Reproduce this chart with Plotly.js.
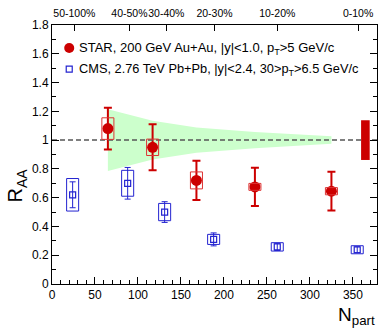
<!DOCTYPE html>
<html><head><meta charset="utf-8">
<script src="https://cdn.plot.ly/plotly-3.0.1.min.js"></script>
<style>html,body{margin:0;padding:0;background:#fff;}</style>
</head><body>
<div id="chart" style="width:382px;height:328px;"></div>
<script>
// STAR, 200 GeV Au+Au
const starNpart = [65, 117, 168, 236, 325];
const starRaa   = [1.08, 0.95, 0.72, 0.675, 0.645];
const starStat  = [0.145, 0.16, 0.137, 0.133, 0.135];
const starSys   = [0.075, 0.057, 0.059, 0.024, 0.025];
// CMS, 2.76 TeV Pb+Pb
const cmsNpart = [24, 88, 131, 188, 262, 355];
const cmsRaa   = [0.62, 0.70, 0.50, 0.31, 0.258, 0.238];
const cmsStat  = [0.09, 0.11, 0.072, 0.045, 0.025, 0.02];
const cmsSys   = [0.113, 0.09, 0.06, 0.035, 0.029, 0.028];
// Ncoll uncertainty band (half width around 1) at STAR Npart
const bandHalf = [0.214, 0.135, 0.088, 0.057, 0.026];
// global STAR uncertainty
const globalNpart = 364.5;
const globalUnc = 0.138;
// top axis centrality labels
const centralityLabels = ['50-100%', '40-50%', '30-40%', '20-30%', '10-20%', '0-10%'];
const centralityNpart = [26, 90, 133, 189, 262, 356];

const RED = '#cc0000', BLUE = '#2323d0';
const xMax = 378, boxHalf = 7, globalHalf = 5;
const FONT = 'Liberation Sans, Arial, sans-serif';

const bandX = starNpart.concat(starNpart.slice().reverse());
const bandY = starNpart.map((_, i) => 1 + bandHalf[i])
  .concat(starNpart.map((_, i) => 1 - bandHalf[i]).reverse());

const traces = [
  {x: bandX, y: bandY, type: 'scatter', mode: 'lines', fill: 'toself',
   fillcolor: '#ccffcc', line: {width: 0}, hoverinfo: 'skip', showlegend: false},
  {x: [0, xMax], y: [1, 1], type: 'scatter', mode: 'lines', xaxis: 'x2',
   line: {color: '#555', width: 1.5, dash: '5px,3px'}, showlegend: false},
  {x: cmsNpart, y: cmsRaa, type: 'scatter', mode: 'markers',
   marker: {symbol: 'square-open', size: 6, color: BLUE, line: {width: 1.2, color: BLUE}},
   error_y: {type: 'data', array: cmsStat, color: BLUE, thickness: 1, width: 3},
   showlegend: false},
  {x: starNpart, y: starRaa, type: 'scatter', mode: 'markers',
   marker: {symbol: 'circle', size: 11, color: RED},
   error_y: {type: 'data', array: starStat, color: RED, thickness: 2, width: 4},
   showlegend: false}
];

const shapes = [];
starNpart.forEach((n, i) => shapes.push({type: 'rect', xref: 'x', yref: 'y', layer: 'above',
  x0: n - boxHalf, x1: n + boxHalf, y0: starRaa[i] - starSys[i], y1: starRaa[i] + starSys[i],
  line: {color: '#dd3333', width: 1}}));
cmsNpart.forEach((n, i) => shapes.push({type: 'rect', xref: 'x', yref: 'y', layer: 'above',
  x0: n - boxHalf, x1: n + boxHalf, y0: cmsRaa[i] - cmsSys[i], y1: cmsRaa[i] + cmsSys[i],
  line: {color: BLUE, width: 1}}));
shapes.push({type: 'rect', xref: 'x', yref: 'y', layer: 'above',
  x0: globalNpart - globalHalf, x1: globalNpart + globalHalf,
  y0: 1 - globalUnc, y1: 1 + globalUnc, fillcolor: RED, line: {width: 0}});
// legend symbols
shapes.push({type: 'circle', xref: 'paper', yref: 'paper', xsizemode: 'pixel', ysizemode: 'pixel',
  xanchor: 0.053, yanchor: 0.911, x0: -5, x1: 5, y0: -5, y1: 5, fillcolor: RED, line: {width: 0}});
shapes.push({type: 'rect', xref: 'paper', yref: 'paper', xsizemode: 'pixel', ysizemode: 'pixel',
  xanchor: 0.053, yanchor: 0.83, x0: -3, x1: 3, y0: -3, y1: 3, line: {color: BLUE, width: 1.2}});

const annotations = [
  {xref: 'paper', yref: 'paper', x: 0.076, y: 0.911, xanchor: 'left', yanchor: 'middle', showarrow: false,
   text: 'STAR, 200 GeV Au+Au, |y|<1.0, p<sub>T</sub>>5 GeV/c', font: {family: FONT, size: 13, color: '#000'}},
  {xref: 'paper', yref: 'paper', x: 0.076, y: 0.83, xanchor: 'left', yanchor: 'middle', showarrow: false,
   text: 'CMS, 2.76 TeV Pb+Pb, |y|<2.4, 30>p<sub>T</sub>>6.5 GeV/c', font: {family: FONT, size: 12.8, color: '#000'}},
  {xref: 'paper', yref: 'paper', x: -0.108, y: 0.38, xanchor: 'center', yanchor: 'middle', showarrow: false,
   textangle: -90, text: 'R<sub>AA</sub>', font: {family: FONT, size: 20, color: '#000'}},
  {xref: 'paper', yref: 'paper', x: 1.0, y: -0.068, xanchor: 'right', yanchor: 'top', showarrow: false,
   text: 'N<sub>part</sub>', font: {family: FONT, size: 19, color: '#000'}}
];

const layout = {
  width: 382, height: 328,
  margin: {l: 52, r: 5, t: 25, b: 44},
  paper_bgcolor: '#fff', plot_bgcolor: '#fff',
  font: {family: FONT, size: 12, color: '#000'},
  showlegend: false,
  xaxis: {range: [0, xMax], showgrid: false, zeroline: false, showline: true, linecolor: '#000',
    linewidth: 1, mirror: true, ticks: 'inside', ticklen: 7, tickcolor: '#000', dtick: 50, tick0: 0,
    tickfont: {size: 12}, minor: {dtick: 10, ticks: 'inside', ticklen: 4, tickcolor: '#000'}},
  xaxis2: {range: [0, xMax], overlaying: 'x', side: 'top', showgrid: false, zeroline: false,
    showline: false, ticks: 'inside', ticklen: 6, tickcolor: '#000', tickangle: 0,
    ticklabelstandoff: 5,
    tickmode: 'array', tickvals: centralityNpart, ticktext: centralityLabels, tickfont: {size: 10.5}},
  yaxis: {range: [0, 1.8], showgrid: false, zeroline: false, showline: true, linecolor: '#000',
    linewidth: 1, mirror: 'ticks', ticks: 'inside', ticklen: 7, tickcolor: '#000', dtick: 0.2, tick0: 0,
    tickfont: {size: 12}, minor: {dtick: 0.1, ticks: 'inside', ticklen: 4, tickcolor: '#000'}},
  shapes: shapes,
  annotations: annotations
};

Plotly.newPlot('chart', traces, layout, {staticPlot: true, displayModeBar: false});
</script>
</body></html>
